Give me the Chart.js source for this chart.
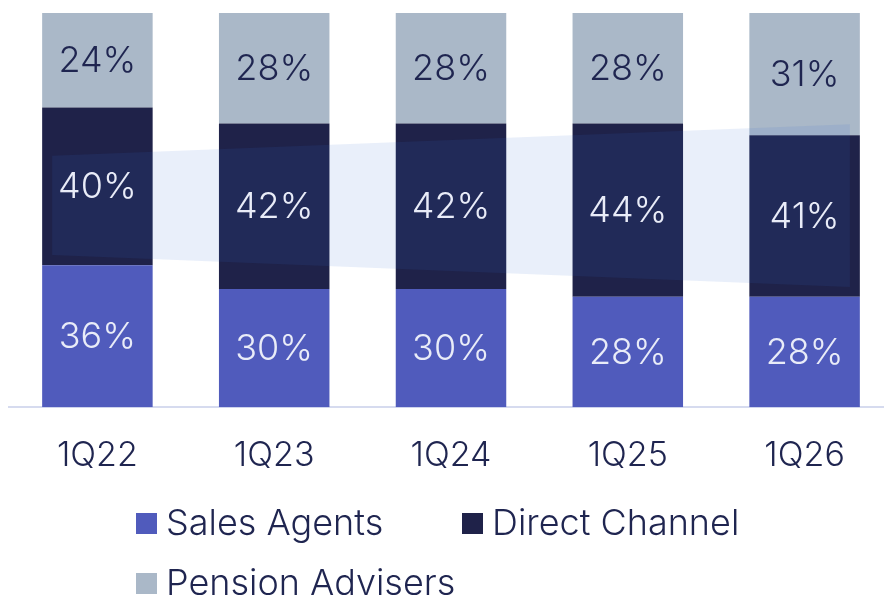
<!DOCTYPE html>
<html>
<head>
<meta charset="utf-8">
<script src="https://cdn.jsdelivr.net/npm/chart.js@4/dist/chart.umd.min.js"></script>
<style>
  body { margin: 0; background: #fff; overflow: hidden; width: 884px; height: 595px; position: relative; }
  #wrap { position: absolute; left: 0; top: 0; width: 893px; height: 595px; }
  #legend {
    position: absolute; left: 136px; top: 492px;
    display: grid; grid-template-columns: 326px auto; grid-auto-rows: 60px;
    font-family: "Inter", "DejaVu Sans", sans-serif; font-weight: 300; font-size: 36px; color: #1f2550;
  }
  #legend .item { display: flex; align-items: center; white-space: nowrap; }
  #legend .box { width: 21px; height: 21px; margin-right: 9px; margin-top: 3px; }
</style>
</head>
<body>
<div id="wrap"><canvas id="myChart"></canvas></div>
<div id="legend"></div>
<script>
const labels = ["1Q22", "1Q23", "1Q24", "1Q25", "1Q26"];
const salesAgents = [36, 30, 30, 28, 28];
const directChannel = [40, 42, 42, 44, 41];
const pensionAdvisers = [24, 28, 28, 28, 31];
// highlight band (in % of the bar): [bottom, top] at the first and last quarter
const bandStart = [38.6, 63.8];
const bandEnd = [30.5, 71.8];

const textDark = "#1f2550";
const textLight = "#e9ecf8";

const data = {
    labels: labels,
    datasets: [
        { label: "Sales Agents", data: salesAgents, backgroundColor: "#505bbc", labelColor: textLight },
        { label: "Direct Channel", data: directChannel, backgroundColor: "#1f2249", labelColor: textLight },
        { label: "Pension Advisers", data: pensionAdvisers, backgroundColor: "#aab8c8", labelColor: textDark },
    ],
};

// draws the light band and the % labels
const barLabels = {
    id: "barLabels",
    afterDatasetsDraw(chart) {
        const { ctx, scales: { y } } = chart;
        const bars = chart.getDatasetMeta(0).data;
        const first = bars[0];
        const last = bars[bars.length - 1];
        const x0 = first.x - first.width / 2 + first.width * 0.09;
        const x1 = last.x + last.width / 2 - last.width * 0.09;

        ctx.save();
        ctx.beginPath();
        ctx.moveTo(x0, y.getPixelForValue(bandStart[1]));
        ctx.lineTo(x1, y.getPixelForValue(bandEnd[1]));
        ctx.lineTo(x1, y.getPixelForValue(bandEnd[0]));
        ctx.lineTo(x0, y.getPixelForValue(bandStart[0]));
        ctx.closePath();
        ctx.fillStyle = "rgba(59, 112, 210, 0.11)";
        ctx.fill();

        ctx.font = "300 36px Inter, 'DejaVu Sans', sans-serif";
        ctx.textAlign = "center";
        ctx.textBaseline = "middle";
        chart.data.datasets.forEach((ds, i) => {
            chart.getDatasetMeta(i).data.forEach((bar, j) => {
                ctx.fillStyle = ds.labelColor;
                ctx.fillText(ds.data[j] + "%", bar.x, (bar.y + bar.base) / 2 + 1);
            });
        });
        ctx.restore();
    },
};

const config = {
    type: "bar",
    data,
    options: {
        responsive: true,
        maintainAspectRatio: false,
        animation: false,
        layout: { padding: { left: 9, right: 0, top: 13, bottom: 91 } },
        datasets: { bar: { barPercentage: 1, categoryPercentage: 0.625, borderWidth: 0 } },
        plugins: { legend: { display: false }, tooltip: { enabled: false } },
        scales: {
            x: {
                stacked: true,
                grid: { display: false, drawTicks: false },
                border: { display: true, color: "#d6dbef", width: 2 },
                ticks: { color: textDark, padding: 28, font: { family: "Inter", size: 34, weight: 300 } },
            },
            y: { stacked: true, display: false, min: 0, max: 100 },
        },
    },
    plugins: [barLabels],
};

const myChart = new Chart(document.getElementById("myChart"), config);

// legend
const legend = document.getElementById("legend");
data.datasets.forEach((ds) => {
    const item = document.createElement("div");
    item.className = "item";
    item.innerHTML = '<span class="box" style="background:' + ds.backgroundColor + '"></span>' + ds.label;
    legend.appendChild(item);
});
</script>
</body>
</html>
